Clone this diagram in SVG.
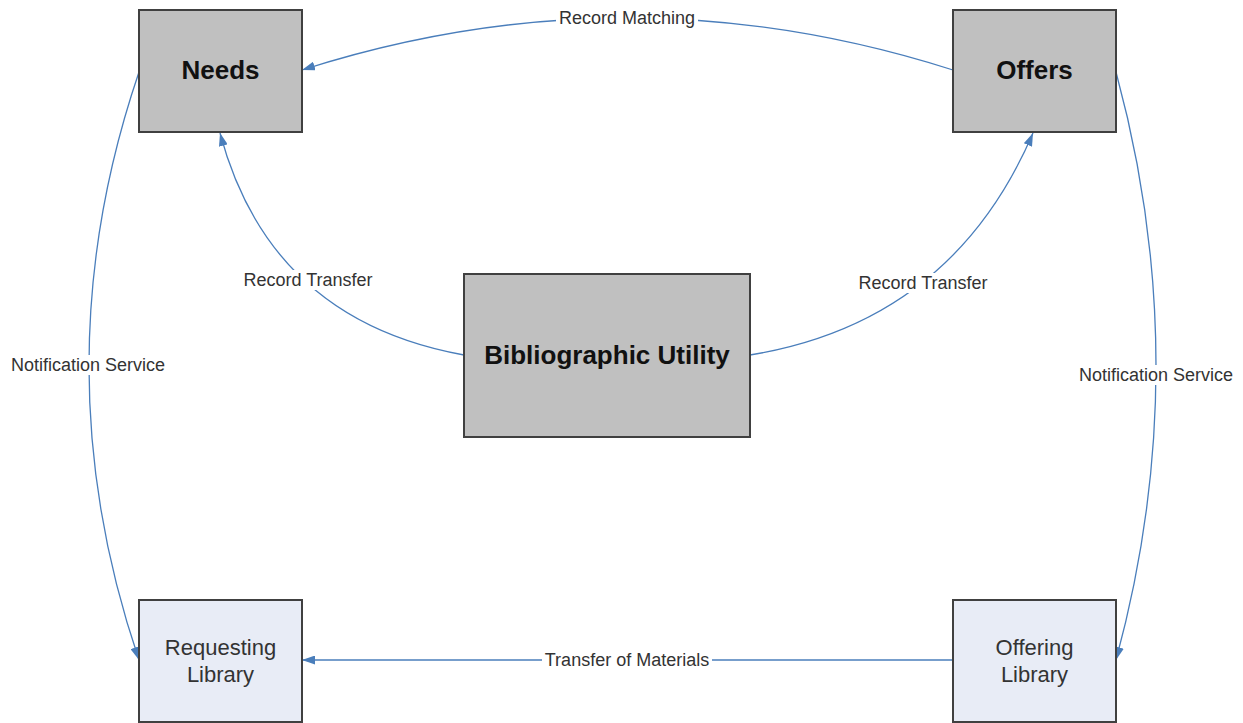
<svg xmlns="http://www.w3.org/2000/svg" width="1243" height="723" viewBox="0 0 1243 723">
<defs>
<marker id="arr" viewBox="0 0 13 9" refX="13" refY="4.5" markerWidth="13" markerHeight="9" markerUnits="userSpaceOnUse" orient="auto">
<path d="M0,0 L13,4.5 L0,9 z" fill="#4a7ebb"/>
</marker>
<style>
.dark rect{fill:#c0c0c0;stroke:#404040;stroke-width:2}
.light rect{fill:#e8ecf6;stroke:#404040;stroke-width:2}
.bold{font-family:"Liberation Sans",Arial,sans-serif;font-weight:bold;font-size:26px;fill:#111;text-anchor:middle}
.reg{font-family:"Liberation Sans",Arial,sans-serif;font-size:22px;fill:#333;text-anchor:middle}
.conn path{fill:none;stroke:#4a7ebb;stroke-width:1.3;marker-end:url(#arr)}
.lbl rect{fill:#fff}
.lbl text{font-family:"Liberation Sans",Arial,sans-serif;font-size:18px;fill:#333;text-anchor:middle}
</style>
</defs>
<rect width="1243" height="723" fill="#fff"/>
<g id="connectors" class="conn">
<path d="M953,70 Q627,-34 302,70"/>
<path d="M464,355 Q270,320 220,133"/>
<path d="M750,355 Q952,322 1033,133"/>
<path d="M139,72 Q39,366 139,660"/>
<path d="M1116,72 Q1196,366 1116,660"/>
<path d="M953,660 L302,660"/>
</g>
<g id="labels" class="lbl">
<rect x="556" y="8" width="142" height="20"/>
<text x="627" y="24">Record Matching</text>
<rect x="240" y="270" width="136" height="20"/>
<text x="308" y="286">Record Transfer</text>
<rect x="855" y="273" width="136" height="20"/>
<text x="923" y="289">Record Transfer</text>
<rect x="8" y="355" width="160" height="20"/>
<text x="88" y="371">Notification Service</text>
<rect x="1076" y="365" width="160" height="20"/>
<text x="1156" y="381">Notification Service</text>
<rect x="542" y="650" width="170" height="20"/>
<text x="627" y="666">Transfer of Materials</text>
</g>
<g id="needs" class="dark">
<rect x="139" y="10" width="163" height="122"/>
<text class="bold" x="220.5" y="79">Needs</text>
</g>
<g id="offers" class="dark">
<rect x="953" y="10" width="163" height="122"/>
<text class="bold" x="1034.5" y="79">Offers</text>
</g>
<g id="bibliographic-utility" class="dark">
<rect x="464" y="274" width="286" height="163"/>
<text class="bold" x="607" y="364">Bibliographic Utility</text>
</g>
<g id="requesting-library" class="light">
<rect x="139" y="600" width="163" height="122"/>
<text class="reg" x="220.5" y="655">Requesting</text>
<text class="reg" x="220.5" y="682">Library</text>
</g>
<g id="offering-library" class="light">
<rect x="953" y="600" width="163" height="122"/>
<text class="reg" x="1034.5" y="655">Offering</text>
<text class="reg" x="1034.5" y="682">Library</text>
</g>
</svg>
